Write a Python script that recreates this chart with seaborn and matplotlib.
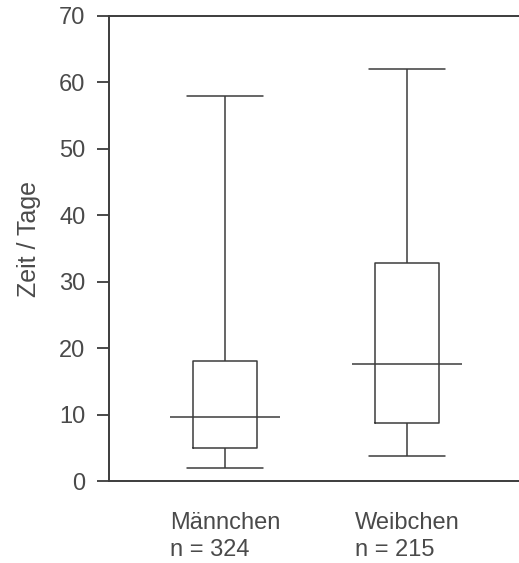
import numpy as np
import pandas as pd
import matplotlib
matplotlib.use('Agg')
import matplotlib.pyplot as plt
import seaborn as sns

# five-number summaries (min, Q1, median, Q3, max)
groups = ['Männchen', 'Weibchen']
n_values = [324, 215]
whisker_low = [2, 3.8]
q1 = [5, 8.7]
medians = [9.6, 17.6]
q3 = [18, 32.8]
whisker_high = [58, 62]
y_ticks = [0, 10, 20, 30, 40, 50, 60, 70]

rows = []
for i, g in enumerate(groups):
    for v in [whisker_low[i], q1[i], medians[i], q3[i], whisker_high[i]]:
        rows.append({'group': g, 'days': v})
df = pd.DataFrame(rows)

sns.set_style('white')
plt.rcParams['font.family'] = ['Liberation Sans', 'DejaVu Sans']

line_col = '#3c3c3c'
text_col = '#4a4a4a'

fig = plt.figure(figsize=(5.19, 5.63), dpi=100)
ax = fig.add_axes([0.21, 0.1456, 0.79, 0.826])

# with five points and whis=(0, 100) the box edges land on Q1/Q3, whiskers on min/max
sns.boxplot(data=df, x='group', y='days', order=groups, whis=(0, 100),
            width=0.35, fill=False, color=line_col, linewidth=1.1,
            capwidths=0.42, medianprops={'visible': False},
            showfliers=False, ax=ax)

# median lines are drawn wider than the box
ax.hlines(medians, np.arange(len(groups)) - 0.3, np.arange(len(groups)) + 0.3,
          color=line_col, linewidth=1.1)

ax.set_xlim(-0.637, 1.615)
ax.set_ylim(0, 70)
ax.set_yticks(y_ticks)
ax.set_xticks(range(len(groups)))
ax.set_xticklabels([f'{g}\nn = {n}' for g, n in zip(groups, n_values)],
                   multialignment='left', linespacing=1.25)
ax.set_xlabel('')
ax.set_ylabel('Zeit / Tage', fontsize=18, color=text_col)
ax.yaxis.set_label_coords(-0.165, 0.52)

ax.tick_params(axis='y', left=True, length=9, width=1.3, color=line_col,
               labelsize=17, labelcolor=text_col, pad=8)
ax.tick_params(axis='x', bottom=False, labelsize=17, labelcolor=text_col, pad=19)

for side in ['left', 'top', 'bottom']:
    ax.spines[side].set_color(line_col)
    ax.spines[side].set_linewidth(1.4)
ax.spines['right'].set_visible(False)

fig.savefig('out.png', dpi=100, facecolor='white')
